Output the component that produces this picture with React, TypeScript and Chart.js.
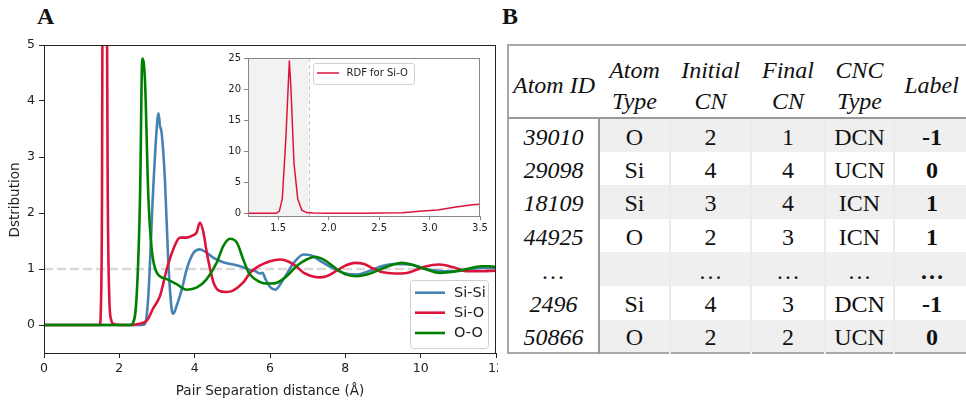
import React, { useEffect, useRef } from 'react';
import { Chart, registerables } from 'chart.js';

Chart.register(...registerables);

// ---------- DATA ----------
const siSi: [number, number][] = [
  [0, 0], [2.6, 0], [2.68, 0.02], [2.77, 0.52], [2.89, 2.3], [2.99, 3.49], [3.04, 3.78], [3.08, 3.55],
  [3.12, 3.45], [3.21, 2.6], [3.3, 1.12], [3.39, 0.28], [3.43, 0.2], [3.52, 0.34], [3.66, 0.64],
  [3.79, 1.0], [3.97, 1.29], [4.14, 1.35], [4.32, 1.29], [4.5, 1.2], [4.76, 1.12], [5.03, 1.08],
  [5.29, 1.03], [5.5, 0.98], [5.62, 0.96], [5.72, 0.92], [5.8, 0.93], [5.88, 0.82], [6.0, 0.68],
  [6.14, 0.63], [6.36, 0.82], [6.62, 1.1], [6.89, 1.26], [7.1, 1.24], [7.3, 1.16], [7.6, 1.04],
  [7.95, 0.93], [8.3, 0.9], [8.66, 0.97], [9.0, 1.06], [9.3, 1.09], [9.72, 1.08], [10.0, 1.03],
  [10.3, 0.98], [10.6, 0.96], [10.9, 0.96], [11.3, 0.99], [11.6, 1.02], [12, 1.02],
];

const siO: [number, number][] = [
  [0, 0], [1.48, 0], [1.51, 0.3], [1.54, 2.3], [1.575, 12], [1.61, 24.6], [1.626, 20], [1.656, 8],
  [1.693, 2.3], [1.733, 0.5], [1.78, 0.1], [1.85, 0.02], [2.0, 0], [2.36, 0], [2.5, 0.02],
  [2.73, 0.08], [2.9, 0.3], [3.08, 0.52], [3.26, 1.0], [3.43, 1.35], [3.61, 1.56], [3.79, 1.56],
  [3.95, 1.6], [4.05, 1.65], [4.14, 1.83], [4.23, 1.66], [4.32, 1.3], [4.41, 1.0], [4.5, 0.76],
  [4.63, 0.62], [4.85, 0.59], [5.03, 0.62], [5.29, 0.76], [5.47, 0.93], [5.7, 1.05], [6.0, 1.14],
  [6.27, 1.17], [6.5, 1.13], [6.71, 1.04], [6.9, 0.93], [7.07, 0.88], [7.3, 0.85], [7.5, 0.87],
  [7.77, 0.97], [8.0, 1.06], [8.25, 1.11], [8.5, 1.09], [8.74, 1.01], [9.0, 0.94], [9.3, 0.92],
  [9.63, 0.93], [9.9, 0.99], [10.1, 1.04], [10.5, 1.08], [10.87, 1.03], [11.23, 0.96], [11.6, 0.96],
  [12.0, 0.97],
];

const oO: [number, number][] = [
  [0, 0], [2.3, 0], [2.35, 0.02], [2.46, 0.52], [2.55, 2.3], [2.61, 4.76], [2.68, 4.38], [2.77, 2.3],
  [2.86, 1.35], [2.99, 0.94], [3.26, 0.82], [3.52, 0.73], [3.79, 0.63], [4.06, 0.67], [4.32, 0.82],
  [4.59, 1.12], [4.76, 1.41], [4.94, 1.54], [5.12, 1.47], [5.29, 1.17], [5.43, 0.94], [5.6, 0.82],
  [5.8, 0.75], [6.0, 0.74], [6.2, 0.76], [6.44, 0.87], [6.7, 1.05], [6.97, 1.17], [7.2, 1.22],
  [7.45, 1.16], [7.77, 1.0], [8.03, 0.9], [8.3, 0.87], [8.57, 0.9], [8.92, 0.99], [9.27, 1.08],
  [9.5, 1.11], [9.8, 1.07], [10.16, 0.99], [10.51, 0.93], [10.87, 0.95], [11.22, 1.0], [11.6, 1.05],
  [11.84, 1.05], [12, 1.03],
];

const refLine: [number, number][] = [[0, 1], [12, 1]];

const seriesNames = ['Si-Si', 'Si-O', 'O-O'];
const seriesColors = ['#4682b4', '#dc143c', '#008000'];
const insetLegend = 'RDF for Si-O';

const mainXTicks = [0, 2, 4, 6, 8, 10, 12];
const mainYTicks = [0, 1, 2, 3, 4, 5];
const insetXTicks = [1.5, 2.0, 2.5, 3.0, 3.5];
const insetYTicks = [0, 5, 10, 15, 20, 25];
const cutoff = 1.8;

const xTitle = 'Pair Separation distance (Å)';
const yTitle = 'Dstribution';

const tableHeaders = [['Atom ID'], ['Atom', 'Type'], ['Initial', 'CN'], ['Final', 'CN'], ['CNC', 'Type'], ['Label']];
const atomIds = ['39010', '29098', '18109', '44925', '…', '2496', '50866'];
const atomTypes = ['O', 'Si', 'Si', 'O', '', 'Si', 'O'];
const initialCN = ['2', '4', '3', '2', '…', '4', '2'];
const finalCN = ['1', '4', '4', '3', '…', '3', '2'];
const cncTypes = ['DCN', 'UCN', 'ICN', 'ICN', '…', 'DCN', 'UCN'];
const labelValues = ['-1', '0', '1', '1', '…', '-1', '0'];

const SANS = '"DejaVu Sans", sans-serif';
const SERIF = '"Liberation Serif", "Times New Roman", serif';

const toPts = (a: [number, number][]) => a.map(([x, y]) => ({ x, y }));

const zeroPad = (s: any) => {
  s.paddingLeft = 0;
  s.paddingRight = 0;
  s.paddingTop = 0;
  s.paddingBottom = 0;
};

export default function App() {
  const mainRef = useRef<HTMLCanvasElement | null>(null);
  const insetRef = useRef<HTMLCanvasElement | null>(null);

  useEffect(() => {
    Chart.defaults.font.family = SANS;
    const tickColor = '#222';

    const mainDecor = {
      id: 'mainDecor',
      afterDraw(chart: any) {
        const { ctx, chartArea } = chart;
        ctx.save();
        ctx.strokeStyle = '#222';
        ctx.lineWidth = 1;
        ctx.strokeRect(chartArea.left + 0.5, chartArea.top + 0.5, chartArea.right - chartArea.left - 1, chartArea.bottom - chartArea.top);
        // legend
        const lx = 410.5, ly = 280.5, lw = 78, lh = 68;
        ctx.beginPath();
        ctx.roundRect(lx, ly, lw, lh, 3);
        ctx.fillStyle = 'rgba(255,255,255,0.85)';
        ctx.fill();
        ctx.strokeStyle = '#d0d0d0';
        ctx.stroke();
        const ys = [292.7, 312.7, 333];
        ctx.font = '14.5px ' + SANS;
        ctx.textBaseline = 'middle';
        ctx.textAlign = 'left';
        seriesNames.forEach((n, i) => {
          ctx.beginPath();
          ctx.moveTo(415, ys[i]);
          ctx.lineTo(445, ys[i]);
          ctx.strokeStyle = seriesColors[i];
          ctx.lineWidth = 2.6;
          ctx.stroke();
          ctx.fillStyle = '#222';
          ctx.fillText(n, 454, ys[i] + 0.5);
        });
        // titles
        ctx.font = '13.5px ' + SANS;
        ctx.textAlign = 'center';
        ctx.fillStyle = '#222';
        ctx.fillText(xTitle, (chartArea.left + chartArea.right) / 2, 391);
        ctx.translate(15, 200);
        ctx.rotate(-Math.PI / 2);
        ctx.fillText(yTitle, 0, 0);
        ctx.restore();
      },
    };

    const main = new Chart(mainRef.current as HTMLCanvasElement, {
      type: 'line',
      data: {
        datasets: [
          ...[siSi, siO, oO].map((d, i) => ({
            label: seriesNames[i],
            data: toPts(d),
            borderColor: seriesColors[i],
            backgroundColor: seriesColors[i],
            borderWidth: 2.6,
            pointRadius: 0,
            cubicInterpolationMode: 'monotone' as const,
            clip: 0,
            order: 3 - i,
          })),
          {
            label: 'ref',
            data: toPts(refLine),
            borderColor: '#d9d9d9',
            borderWidth: 2.5,
            borderDash: [9, 4],
            pointRadius: 0,
            clip: 0,
            order: 10,
          },
        ],
      },
      options: {
        responsive: false,
        animation: false,
        devicePixelRatio: 1,
        layout: { padding: { top: 45, right: 2, left: 0, bottom: 0 }, autoPadding: false } as any,
        plugins: { legend: { display: false }, tooltip: { enabled: false } },
        scales: {
          x: {
            type: 'linear',
            min: 0,
            max: 12,
            afterFit: (s: any) => { s.height = 50; zeroPad(s); },
            afterBuildTicks: (s: any) => { s.ticks = mainXTicks.map((v) => ({ value: v })); },
            ticks: { color: tickColor, font: { size: 12.5 }, padding: 3, maxRotation: 0 },
            grid: { display: true, drawOnChartArea: false, drawTicks: true, tickLength: 5, color: '#222' },
            border: { display: true, color: '#222' },
          },
          y: {
            type: 'linear',
            min: -0.5,
            max: 5,
            afterFit: (s: any) => { s.width = 44; zeroPad(s); },
            afterBuildTicks: (s: any) => { s.ticks = mainYTicks.map((v) => ({ value: v })); },
            ticks: { color: tickColor, font: { size: 12.5 }, padding: 4 },
            grid: { display: true, drawOnChartArea: false, drawTicks: true, tickLength: 5, color: '#222' },
            border: { display: true, color: '#222' },
          },
        },
      },
      plugins: [mainDecor],
    });

    const insetDecor = {
      id: 'insetDecor',
      beforeDraw(chart: any) {
        const { ctx, chartArea, scales } = chart;
        ctx.save();
        ctx.fillStyle = '#ffffff';
        ctx.fillRect(chartArea.left, chartArea.top, chartArea.right - chartArea.left, chartArea.bottom - chartArea.top);
        const x0 = scales.x.getPixelForValue(scales.x.min);
        const x1 = scales.x.getPixelForValue(cutoff);
        ctx.fillStyle = '#f2f2f2';
        ctx.fillRect(x0, chartArea.top, x1 - x0, chartArea.bottom - chartArea.top);
        ctx.beginPath();
        ctx.setLineDash([4, 3]);
        ctx.strokeStyle = '#c8c8c8';
        ctx.lineWidth = 1;
        ctx.moveTo(Math.round(x1) + 0.5, chartArea.top);
        ctx.lineTo(Math.round(x1) + 0.5, chartArea.bottom);
        ctx.stroke();
        ctx.restore();
      },
      afterDraw(chart: any) {
        const { ctx, chartArea } = chart;
        ctx.save();
        ctx.strokeStyle = '#888';
        ctx.lineWidth = 1;
        ctx.strokeRect(chartArea.left + 0.5, chartArea.top + 0.5, chartArea.right - chartArea.left - 1, chartArea.bottom - chartArea.top);
        const lx = 95.5, ly = 18.5, lw = 101, lh = 21; // relative to inset canvas
        ctx.beginPath();
        ctx.roundRect(lx, ly, lw, lh, 2);
        ctx.fillStyle = 'rgba(255,255,255,0.85)';
        ctx.fill();
        ctx.strokeStyle = '#d0d0d0';
        ctx.stroke();
        ctx.beginPath();
        ctx.moveTo(99, 28);
        ctx.lineTo(121, 28);
        ctx.strokeStyle = seriesColors[1];
        ctx.lineWidth = 1.5;
        ctx.stroke();
        ctx.font = '10px ' + SANS;
        ctx.fillStyle = '#222';
        ctx.textBaseline = 'middle';
        ctx.fillText(insetLegend, 128.5, 28.5);
        ctx.restore();
      },
    };

    const inset = new Chart(insetRef.current as HTMLCanvasElement, {
      type: 'line',
      data: {
        datasets: [
          {
            label: insetLegend,
            data: toPts(siO),
            borderColor: seriesColors[1],
            borderWidth: 1.5,
            pointRadius: 0,
            tension: 0,
            clip: 0,
          },
        ],
      },
      options: {
        responsive: false,
        animation: false,
        devicePixelRatio: 1,
        layout: { padding: { top: 13, right: 14, left: 0, bottom: 0 }, autoPadding: false } as any,
        plugins: { legend: { display: false }, tooltip: { enabled: false } },
        scales: {
          x: {
            type: 'linear',
            min: 1.2,
            max: 3.5,
            afterFit: (s: any) => { s.height = 24; zeroPad(s); },
            afterBuildTicks: (s: any) => { s.ticks = insetXTicks.map((v) => ({ value: v })); },
            ticks: { color: tickColor, font: { size: 10 }, padding: 2, maxRotation: 0, callback: (v: any) => Number(v).toFixed(1) },
            grid: { display: true, drawOnChartArea: false, drawTicks: true, tickLength: 4, color: '#888' },
            border: { display: true, color: '#888' },
          },
          y: {
            type: 'linear',
            min: -0.45,
            max: 25,
            afterFit: (s: any) => { s.width = 30; zeroPad(s); },
            afterBuildTicks: (s: any) => { s.ticks = insetYTicks.map((v) => ({ value: v })); },
            ticks: { color: tickColor, font: { size: 10 }, padding: 3 },
            grid: { display: true, drawOnChartArea: false, drawTicks: true, tickLength: 4, color: '#888' },
            border: { display: true, color: '#888' },
          },
        },
      },
      plugins: [insetDecor],
    });

    return () => {
      main.destroy();
      inset.destroy();
    };
  }, []);

  const rows = atomIds.map((id, i) => [id, atomTypes[i], initialCN[i], finalCN[i], cncTypes[i], labelValues[i]]);
  const colWidths = [91, 71, 81, 74, 69, 76];

  return (
    <div style={{ position: 'absolute', left: 0, top: 0, width: 966, height: 403, overflow: 'hidden', background: '#fff' }}>
      <div style={{ position: 'absolute', left: 37, top: 4, font: `bold 24px ${SERIF}`, lineHeight: '24px', color: '#111' }}>A</div>
      <div style={{ position: 'absolute', left: 502, top: 4, font: `bold 24px ${SERIF}`, lineHeight: '24px', color: '#111' }}>B</div>
      <canvas ref={mainRef} width={498} height={403} style={{ position: 'absolute', left: 0, top: 0, width: 498, height: 403 }} />
      <canvas ref={insetRef} width={276} height={195} style={{ position: 'absolute', left: 218, top: 45, width: 276, height: 195 }} />
      <table
        style={{
          position: 'absolute', left: 507, top: 44, width: 462, borderCollapse: 'collapse', tableLayout: 'fixed',
          border: '2px solid #a8a8a8', fontFamily: SERIF, fontSize: 24, color: '#111',
        }}
      >
        <colgroup>
          {colWidths.map((w, i) => <col key={i} style={{ width: w }} />)}
        </colgroup>
        <thead>
          <tr style={{ height: 73 }}>
            {tableHeaders.map((h, i) => (
              <th key={i} style={{ fontStyle: 'italic', fontWeight: 'normal', lineHeight: '31px', padding: '8px 0 0 0', textAlign: 'center', verticalAlign: 'middle', borderBottom: '2px solid #999', whiteSpace: 'nowrap' }}>
                {h.map((t, k) => <div key={k}>{t}</div>)}
              </th>
            ))}
          </tr>
        </thead>
        <tbody>
          {rows.map((r, ri) => (
            <tr key={ri} style={{ height: 33.6 }}>
              {r.map((c, ci) => {
                const bg = ci === 0 ? '#fff' : ri % 2 === 0 ? '#efefef' : '#fff';
                const style: React.CSSProperties = {
                  background: bg, padding: '3px 0 0 0', textAlign: 'center', verticalAlign: 'middle', lineHeight: '28px',
                  fontStyle: ci === 0 ? 'italic' : 'normal', fontWeight: ci === 5 ? 'bold' : 'normal', whiteSpace: 'nowrap',
                };
                if (ci === 0) style.borderRight = '2px solid #9a9a9a';
                if (ci >= 2) style.borderLeft = '2px solid #ebebeb';
                return <td key={ci} style={style}>{c}</td>;
              })}
            </tr>
          ))}
        </tbody>
      </table>
    </div>
  );
}
